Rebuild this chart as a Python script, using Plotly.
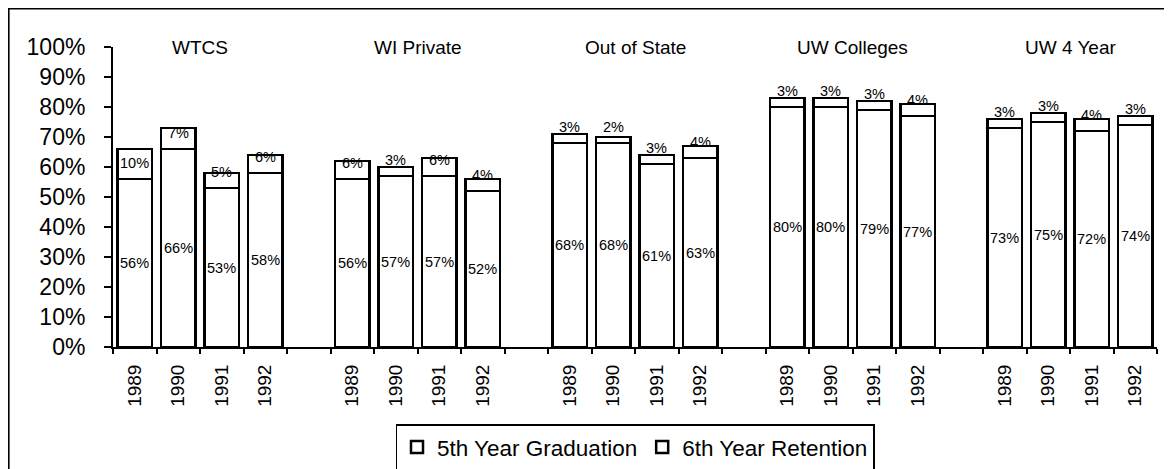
import plotly.graph_objects as go

FONT = "Arial, Liberation Sans, sans-serif"

GROUPS = ["WTCS", "WI Private", "Out of State", "UW Colleges", "UW 4 Year"]
YEARS = ["1989", "1990", "1991", "1992"]

GRAD_5TH = {
    "WTCS": [56, 66, 53, 58],
    "WI Private": [56, 57, 57, 52],
    "Out of State": [68, 68, 61, 63],
    "UW Colleges": [80, 80, 79, 77],
    "UW 4 Year": [73, 75, 72, 74],
}
RET_6TH = {
    "WTCS": [10, 7, 5, 6],
    "WI Private": [6, 3, 6, 4],
    "Out of State": [3, 2, 3, 4],
    "UW Colleges": [3, 3, 3, 4],
    "UW 4 Year": [3, 3, 4, 3],
}

# categories: 4 years per group, one empty slot between groups
cats, ticktext = [], []
for gi, g in enumerate(GROUPS):
    for y in YEARS:
        cats.append(f"{g} {y}")
        ticktext.append(y)
    if gi < len(GROUPS) - 1:
        cats.append(f"gap{gi}")
        ticktext.append("")

x_bars = [f"{g} {y}" for g in GROUPS for y in YEARS]
v5 = [v for g in GROUPS for v in GRAD_5TH[g]]
v6 = [v for g in GROUPS for v in RET_6TH[g]]

fig = go.Figure()
fig.add_trace(go.Bar(
    x=x_bars, y=v5, name="5th Year Graduation",
    marker=dict(color="white", line=dict(color="black", width=2.5)),
))
fig.add_trace(go.Bar(
    x=x_bars, y=v6, name="6th Year Retention",
    marker=dict(color="white", line=dict(color="black", width=2.5)),
))

annotations = []
for x, a, b in zip(x_bars, v5, v6):
    annotations.append(dict(x=x, y=a / 2, text=f"{a}%", showarrow=False,
                            font=dict(size=14.5, color="black", family=FONT)))
    annotations.append(dict(x=x, y=a + 5.5, text=f"{b}%", showarrow=False,
                            font=dict(size=14.5, color="black", family=FONT)))

for gi, g in enumerate(GROUPS):
    annotations.append(dict(x=gi * 5 + 1.5, y=100, text=g, showarrow=False,
                            yanchor="middle",
                            font=dict(size=19, color="black", family=FONT)))

# page body adds an 8px offset; margins below account for it
fig.update_layout(
    width=1172, height=469,
    margin=dict(l=105, r=23, t=39, b=130, autoexpand=False),
    barmode="stack", bargap=0.2,
    plot_bgcolor="white", paper_bgcolor="white",
    font=dict(family=FONT, color="black"),
    annotations=annotations,
    xaxis=dict(
        type="category", categoryorder="array", categoryarray=cats,
        tickvals=cats, ticktext=ticktext, tickson="boundaries",
        ticks="outside", ticklen=5, tickcolor="black", tickwidth=1.5,
        tickangle=-90, tickfont=dict(size=19, family=FONT),
        ticklabelstandoff=8,
        showline=True, linecolor="black", linewidth=2,
        showgrid=False, range=[-0.5, len(cats) - 0.5],
    ),
    yaxis=dict(
        range=[0, 100], dtick=10, ticksuffix="%",
        ticks="outside", ticklen=7, tickcolor="black", tickwidth=1.5,
        tickfont=dict(size=23, family=FONT), ticklabelstandoff=14,
        showline=True, linecolor="black", linewidth=2,
        showgrid=False, zeroline=False,
    ),
    legend=dict(
        orientation="h", x=0.5, xanchor="center",
        yref="container", y=0.112, yanchor="top",
        bordercolor="black", borderwidth=1.5, itemwidth=30,
        font=dict(size=22.5, family=FONT), traceorder="normal",
    ),
    shapes=[dict(type="rect", xref="paper", yref="paper",
                 x0=-0.1, x1=1.05, y0=-0.5, y1=1.128,
                 line=dict(color="black", width=2), layer="below")],
)

fig.write_html("out.html")
